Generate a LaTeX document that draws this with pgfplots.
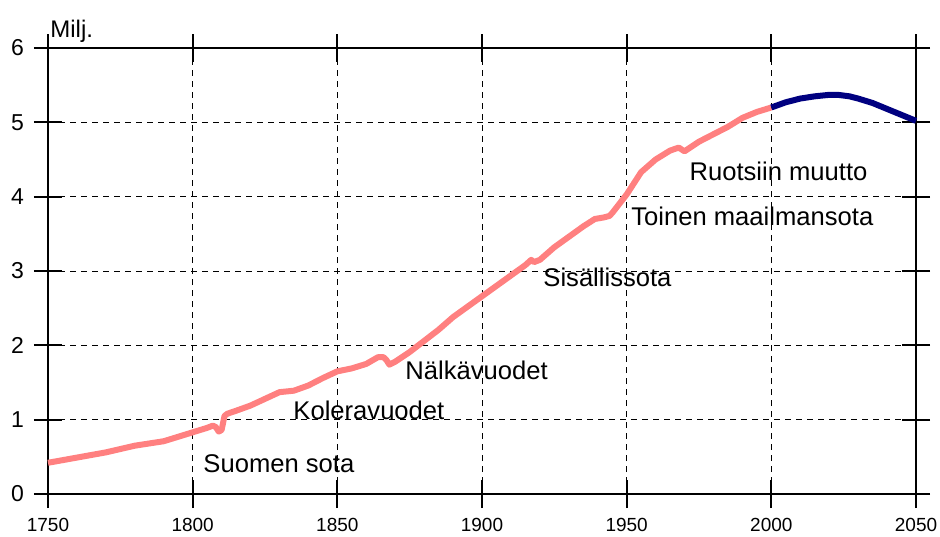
\documentclass[border=0pt]{standalone}
\usepackage{fontspec}
\setmainfont{Liberation Sans}
\usepackage{pgfplots}
\pgfplotsset{compat=1.18}
\definecolor{pinkline}{HTML}{FF8080}
\definecolor{navyline}{HTML}{000080}
\begin{document}
\begin{tikzpicture}
\path[use as bounding box] (-24pt,-21pt) rectangle (446pt,247pt);
\begin{axis}[
  scale only axis, width=434pt, height=223pt,
  xmin=1750, xmax=2050, ymin=0, ymax=6,
  xtick={1750,1800,...,2050}, ytick={0,1,...,6},
  grid=major,
  major grid style={black, line width=0.5pt, dash pattern=on 3pt off 2.5pt},
  axis line style={black, line width=1pt},
  tick align=center, major tick length=14pt,
  tick style={black, line width=1pt},
  /pgf/number format/assume math mode=true,
  /pgf/number format/1000 sep={},
  x tick label style={font=\fontsize{9.5}{10}\selectfont, yshift=-1.5pt},
  y tick label style={font=\fontsize{11.5}{12}\selectfont, xshift=-1.5pt},
  clip=false,
]
\addplot[pinkline, line width=3pt, line join=round] coordinates {
(1750,0.42) (1760,0.49) (1770,0.56) (1780,0.65) (1790,0.71) (1795,0.77)
(1800,0.83) (1805,0.89) (1807,0.92) (1808,0.90) (1809,0.84) (1810,0.86)
(1811,1.05) (1812,1.08) (1815,1.12) (1820,1.19) (1825,1.28) (1830,1.37)
(1835,1.39) (1840,1.46) (1845,1.56) (1850,1.65) (1855,1.69) (1860,1.75)
(1864,1.84) (1866,1.84) (1867,1.80) (1868,1.74) (1870,1.78) (1875,1.91)
(1880,2.06) (1885,2.21) (1890,2.38) (1895,2.52) (1900,2.66) (1905,2.80)
(1910,2.94) (1915,3.08) (1917,3.15) (1918,3.12) (1920,3.15) (1925,3.32)
(1930,3.46) (1935,3.60) (1939,3.70) (1942,3.72) (1944,3.74) (1945,3.78)
(1950,4.03) (1955,4.33) (1960,4.50) (1965,4.62) (1968,4.66) (1970,4.61)
(1975,4.74) (1980,4.84) (1985,4.94) (1990,5.06) (1995,5.14) (2000,5.20)
};
\addplot[navyline, line width=3pt, line join=round] coordinates {
(2000,5.20) (2005,5.27) (2010,5.32) (2015,5.35) (2020,5.37) (2023,5.37)
(2027,5.35) (2030,5.32) (2035,5.26) (2040,5.18) (2045,5.10) (2050,5.02)
};
\begin{scope}[every node/.style={anchor=base west, inner sep=0pt, font=\fontsize{12.8}{14}\selectfont}]
\node at (axis cs:1803.6,0.296) {Suomen sota};
\node at (axis cs:1834.7,0.996) {Koleravuodet};
\node at (axis cs:1873.4,1.534) {Nälkävuodet};
\node at (axis cs:1921.1,2.785) {Sisällissota};
\node at (axis cs:1951.5,3.606) {Toinen maailmansota};
\node at (axis cs:1971.6,4.224) {Ruotsiin muutto};
\end{scope}
\node[anchor=base west, inner sep=0pt, font=\fontsize{12}{14}\selectfont] at (rel axis cs:0,1) [xshift=1pt, yshift=5.5pt] {Milj.};
\end{axis}
\end{tikzpicture}
\end{document}
